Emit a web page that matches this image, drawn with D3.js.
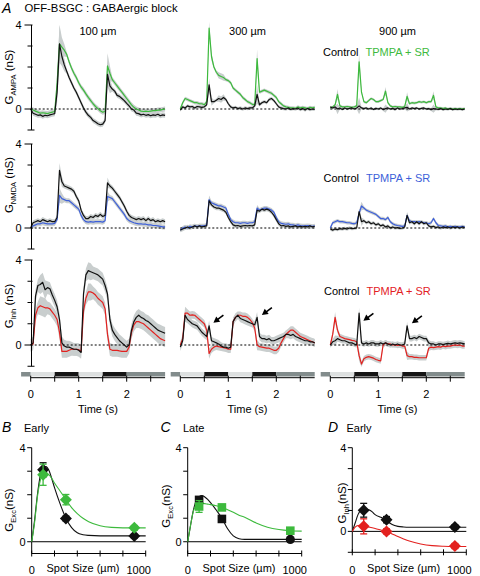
<!DOCTYPE html>
<html><head><meta charset="utf-8">
<script src="https://cdn.jsdelivr.net/npm/d3@7"></script>
<style>body{margin:0;background:#fff}svg{display:block}text{font-family:"Liberation Sans",Arial,Helvetica,sans-serif}</style>
</head><body>
<svg id="chart" width="480" height="576"></svg>
<script>
// ---------------- DATA ----------------
const timeStep = 0.05, nPts = 57;           // 0 .. 2.8 s
const columnLabels = ["100 µm", "300 µm", "900 µm"];
const rowSubs = ["AMPA", "NMDA", "Inh"];
const legendCtrl = "Control", legendDrug = "TPMPA + SR";
const timeTicks = [0, 0.5, 1, 1.5, 2, 2.5];
const timeTickLabels = ["0", "", "1", "", "2", ""];
const stimStart = [-0.2, 0, 0.5, 1.0, 1.5, 2.0];
const stimEnd   = [0, 0.5, 1.0, 1.5, 2.0, 2.8];
const stimShade = ["mid", "light", "dark", "light", "dark", "mid"];

const ampa100Ctrl = [0,-0.2,-0.25,-0.3,-0.28,-0.35,-0.3,-0.32,-0.28,-0.25,
 -0.22,0.8,3.1,2.5,2.1,1.8,1.5,1.25,1.0,0.8,
 0.55,0.3,0.05,-0.15,-0.3,-0.4,-0.55,-0.62,-0.7,-0.75,
 -0.72,-0.55,1.65,1.1,0.95,0.85,0.65,0.6,0.5,0.4,
 0.27,0.15,0.0,-0.05,-0.2,-0.22,-0.28,-0.25,-0.3,-0.27,
 -0.32,-0.28,-0.3,-0.25,-0.32,-0.28,-0.3];
const ampa100Drug = [0,-0.05,-0.1,-0.15,-0.2,-0.18,-0.2,-0.22,-0.18,-0.15,
 -0.12,1.2,3.1,2.95,2.8,2.6,2.25,1.95,1.7,1.5,
 1.25,1.05,0.9,0.72,0.55,0.4,0.25,0.12,0.02,-0.08,
 -0.15,-0.12,2.05,1.7,1.4,1.25,1.1,0.95,0.8,0.65,
 0.5,0.35,0.2,0.08,0.0,-0.05,-0.1,-0.12,-0.1,-0.12,
 -0.1,-0.08,-0.08,-0.05,-0.05,-0.02,0.0];
const ampa300Ctrl = [-0.05,0.1,0.05,0.15,0.1,0.12,0.05,0.12,0.1,0.08,
 0.1,0.2,1.15,0.35,0.35,0.42,0.5,0.45,0.55,0.45,
 0.25,0.1,0.05,0.08,0.02,0.05,0.0,0.05,0.02,0.05,
 0.05,0.15,0.7,0.2,0.3,0.35,0.3,0.45,0.5,0.4,
 0.25,0.1,0.05,0.02,0.0,0.05,-0.02,0.02,0.0,0.05,
 -0.03,0.02,-0.05,0.03,-0.03,0.0,-0.02];
const ampa300Drug = [0.0,0.3,0.5,0.45,0.4,0.35,0.3,0.3,0.25,0.25,
 0.2,0.35,3.85,2.5,2.0,1.75,1.6,1.55,1.5,1.4,
 1.35,1.25,1.0,0.9,0.8,0.7,0.55,0.45,0.35,0.3,
 0.22,0.2,2.4,0.8,0.85,0.9,0.85,0.8,0.75,0.65,
 0.55,0.35,0.25,0.15,0.1,0.08,0.05,0.05,0.03,0.1,
 0.05,0.08,0.05,0.02,0.08,0.05,0.08];
const ampa900Ctrl = [0.1,0.05,0.1,0.0,0.05,-0.02,0.05,0.0,0.03,0.05,
 0.0,0.05,0.15,0.05,0.02,0.05,0.0,0.05,-0.02,0.03,
 0.0,0.05,-0.03,0.02,0.05,0.0,0.03,-0.03,0.05,0.0,
 0.02,0.05,0.08,0.0,0.05,0.02,0.05,0.0,0.03,0.05,
 0.0,0.02,-0.03,0.02,0.0,-0.02,0.02,-0.03,0.0,-0.02,
 0.02,-0.03,0.0,-0.02,0.0,-0.03,0.0];
const ampa900Drug = [0.05,0.1,0.2,0.7,0.15,0.1,0.1,0.12,0.1,0.08,
 0.1,0.15,2.25,0.8,0.35,0.3,0.4,0.5,0.45,0.35,
 0.35,0.4,0.45,0.85,0.3,0.15,0.1,0.12,0.1,0.1,
 0.08,0.12,0.6,0.25,0.3,0.28,0.3,0.35,0.32,0.35,
 0.3,0.35,0.35,0.65,0.1,0.05,0.05,0.02,0.05,0.0,
 0.03,0.0,0.02,0.0,0.02,0.0,0.02];
const nmda100Ctrl = [0.0,0.25,0.3,0.35,0.3,0.4,0.35,0.3,0.35,0.3,
 0.3,0.5,2.75,2.2,2.0,1.95,1.9,1.85,1.75,1.5,
 1.3,0.85,0.6,0.45,0.45,0.55,0.5,0.6,0.55,0.65,
 0.55,0.6,2.15,2.0,1.9,1.75,1.6,1.45,1.25,1.05,
 0.8,0.6,0.5,0.45,0.4,0.45,0.4,0.45,0.35,0.45,
 0.35,0.4,0.3,0.35,0.3,0.35,0.3];
const nmda100Drug = [0.0,0.1,0.15,0.2,0.2,0.25,0.22,0.2,0.2,0.2,
 0.22,0.4,1.55,1.4,1.35,1.3,1.3,1.2,1.1,1.0,
 0.9,0.6,0.4,0.3,0.28,0.3,0.28,0.3,0.3,0.3,
 0.28,0.35,1.5,1.45,1.4,1.25,1.1,0.95,0.8,0.65,
 0.45,0.35,0.3,0.25,0.22,0.2,0.2,0.18,0.18,0.15,
 0.15,0.12,0.12,0.1,0.08,0.05,0.05];
const nmda300Ctrl = [-0.1,-0.05,0.0,0.05,0.0,0.05,0.1,0.05,0.1,0.05,
 0.08,0.1,1.3,1.1,1.0,0.95,0.95,0.9,0.85,0.75,
 0.5,0.3,0.15,0.1,0.12,0.08,0.1,0.12,0.1,0.12,
 0.1,0.15,0.85,0.8,0.9,0.85,0.9,0.85,0.75,0.6,
 0.4,0.2,0.1,0.12,0.08,0.1,0.05,0.08,0.1,0.05,
 0.08,0.05,0.08,0.05,0.1,0.05,0.08];
const nmda300Drug = [-0.1,0.0,0.05,0.0,0.08,0.05,0.1,0.08,0.1,0.1,
 0.1,0.15,1.35,1.2,1.15,1.1,1.05,1.05,1.0,0.95,
 0.65,0.4,0.3,0.25,0.25,0.22,0.25,0.25,0.22,0.25,
 0.25,0.3,0.95,0.85,0.9,0.95,0.95,0.9,0.85,0.75,
 0.5,0.3,0.22,0.2,0.18,0.2,0.15,0.15,0.12,0.15,
 0.12,0.1,0.1,0.12,0.1,0.08,0.1];
const nmda900Ctrl = [-0.05,-0.1,-0.05,-0.08,-0.03,-0.05,-0.02,-0.05,0.0,-0.03,
 -0.02,0.0,0.78,0.3,0.35,0.25,0.3,0.2,0.25,0.15,
 0.2,0.1,0.15,0.05,0.1,0.0,0.05,0.0,0.02,-0.02,
 0.0,0.05,0.6,0.25,0.3,0.2,0.3,0.2,0.3,0.2,
 0.25,0.1,0.05,0.08,0.02,0.05,0.0,0.05,0.02,0.05,
 0.0,0.05,0.02,0.05,0.0,0.05,0.02];
const nmda900Drug = [0.0,0.25,0.3,0.35,0.3,0.3,0.28,0.25,0.25,0.22,
 0.2,0.25,0.7,1.05,0.95,0.85,0.8,0.75,0.7,0.65,
 0.55,0.45,0.45,0.4,0.5,0.3,0.2,0.15,0.12,0.1,
 0.08,0.1,0.6,0.35,0.3,0.3,0.28,0.3,0.28,0.25,
 0.25,0.2,0.25,0.45,0.25,0.12,0.1,0.08,0.1,0.05,
 0.08,0.05,0.08,0.05,0.05,0.08,0.05];
const inh100Ctrl = [0.0,0.1,2.3,2.8,2.85,2.95,2.6,2.7,2.65,2.35,
 2.1,1.8,1.2,0.1,-0.05,-0.1,-0.1,-0.15,-0.2,-0.2,
 -0.25,-0.35,2.4,3.3,3.5,3.45,3.4,3.35,3.3,3.2,
 3.1,2.8,2.4,1.2,0.7,0.5,0.35,0.2,0.1,0.0,
 -0.1,0.0,0.7,1.1,1.3,1.4,1.3,1.25,1.15,1.1,
 1.0,0.9,0.8,0.7,0.65,0.6,0.55];
const inh100Drug = [0.0,0.05,1.4,1.75,1.85,1.8,1.75,1.75,1.7,1.55,
 1.4,1.2,0.6,-0.3,-0.3,-0.3,-0.25,-0.2,-0.2,-0.2,
 -0.22,-0.3,1.6,2.2,2.5,2.5,2.45,2.35,2.2,2.1,
 2.0,1.7,0.5,-0.2,-0.25,-0.25,-0.25,-0.28,-0.3,-0.3,
 -0.3,-0.1,0.6,0.95,1.1,1.1,1.05,1.0,0.9,0.8,
 0.7,0.6,0.5,0.4,0.3,0.25,0.2];
const inh300Ctrl = [-0.1,0.2,1.4,1.2,1.1,1.0,0.95,0.9,0.75,0.6,
 0.5,0.4,0.9,0.2,0.15,0.1,0.05,-0.05,-0.1,-0.1,
 -0.15,-0.1,1.1,1.3,1.4,1.25,1.2,1.15,1.1,1.05,
 1.0,0.95,1.3,0.4,0.3,0.3,0.25,0.3,0.2,0.2,
 0.25,0.3,0.35,0.4,0.5,0.5,0.45,0.5,0.4,0.35,
 0.3,0.25,0.2,0.2,0.15,0.15,0.1];
const inh300Drug = [0.0,0.3,1.5,1.5,1.4,1.42,1.4,1.3,1.2,1.1,
 1.0,0.7,-0.4,-0.2,-0.1,-0.05,-0.08,-0.1,-0.12,-0.15,
 -0.2,-0.2,1.1,1.3,1.4,1.4,1.35,1.35,1.3,1.2,
 1.05,0.8,0.0,-0.08,-0.1,-0.12,-0.15,-0.15,-0.2,-0.25,
 -0.25,-0.15,0.1,0.3,0.5,0.6,0.7,0.7,0.6,0.5,
 0.4,0.35,0.3,0.25,0.2,0.15,0.1];
const inh900Ctrl = [0.0,0.15,0.2,0.3,0.25,0.2,0.2,0.15,0.1,0.1,
 0.05,0.0,1.5,0.1,0.05,0.1,0.05,0.1,0.1,0.05,
 0.05,0.1,0.05,0.1,0.05,0.0,0.05,0.0,0.05,0.0,
 0.0,0.05,0.9,0.3,0.3,0.35,0.3,0.4,0.35,0.3,
 0.3,0.1,0.05,0.05,0.0,0.05,0.05,0.02,0.05,0.08,
 0.05,0.08,0.1,0.08,0.1,0.08,0.05];
const inh900Drug = [0.0,0.5,1.3,0.7,0.4,0.35,0.3,0.28,0.25,0.22,
 0.2,0.15,-0.5,-0.9,-0.65,-0.58,-0.55,-0.58,-0.62,-0.68,
 -0.72,-0.75,0.0,0.1,0.05,0.05,0.0,0.02,-0.02,0.0,
 -0.05,-0.05,-0.5,-0.55,-0.55,-0.58,-0.58,-0.6,-0.6,-0.6,
 -0.6,-0.15,-0.1,-0.12,-0.1,-0.08,-0.1,-0.05,-0.08,-0.05,
 -0.05,-0.02,0.0,-0.02,0.0,-0.05,-0.05];

// SEM (nS): baseline per panel plus wider values at given times
const semBase = [[0.12, 0.08, 0.06], [0.12, 0.1, 0.08], [0.3, 0.18, 0.13]];
const semPeaks = [
 [[[0.55,0.5],[0.6,0.9],[0.65,0.45],[0.7,0.3],[1.6,0.6],[1.65,0.35]],
  [[0.6,0.3],[0.65,0.2],[0.8,0.15],[0.85,0.15],[0.9,0.15],[1.6,0.45]],
  [[0.15,0.25],[0.6,0.4],[1.15,0.2],[1.6,0.2],[2.15,0.2]]],
 [[[0.6,0.35],[0.65,0.25],[1.6,0.25]],
  [[0.6,0.2],[1.6,0.15]],
  [[0.6,0.15],[0.65,0.2],[1.6,0.15]]],
 [[[0.2,0.45],[0.25,0.45],[0.3,0.45],[1.2,0.4],[1.25,0.4]],
  [[0.1,0.3],[0.6,0.25],[1.6,0.25]],
  [[0.1,0.25],[0.6,0.25],[1.6,0.2]]]
];

// arrows (column, time of head, value of head) in Inh row
const arrowCols = [1, 1, 2, 2];
const arrowT = [0.69, 1.7, 0.69, 1.7];
const arrowV = [1.05, 1.41, 1.14, 1.02];

// Panels B-D
const spotSizes = [100, 300, 900];
const fitX = [0,25,50,75,100,125,150,175,200,250,300,350,400,450,500,600,700,800,900,1000];
const earlyExcCtrl = [3.06, 0.99, 0.24], earlyExcCtrlErr = [0.3, 0.1, 0.08];
const earlyExcDrug = [2.85, 1.79, 0.59], earlyExcDrugErr = [0.45, 0.22, 0.1];
const earlyExcCtrlFit = [0,0.9,2.0,2.8,3.15,3.2,3.05,2.7,2.3,1.6,1.0,0.6,0.38,0.3,0.27,0.25,0.25,0.25,0.25,0.25];
const earlyExcDrugFit = [0,0.8,1.9,2.6,2.9,2.95,2.85,2.7,2.5,2.15,1.8,1.45,1.2,1.0,0.85,0.68,0.61,0.59,0.59,0.59];
const lateExcCtrl = [1.78, 0.97, 0.1], lateExcCtrlErr = [0.12, 0.12, 0.05];
const lateExcDrug = [1.5, 1.46, 0.47], lateExcDrugErr = [0.25, 0.12, 0.1];
const lateExcCtrlFit = [0,0.7,1.35,1.75,1.92,1.97,1.9,1.8,1.66,1.35,1.0,0.55,0.25,0.13,0.1,0.1,0.1,0.1,0.1,0.1];
const lateExcDrugFit = [0,0.7,1.3,1.55,1.62,1.63,1.62,1.6,1.58,1.53,1.46,1.36,1.25,1.13,1.04,0.8,0.62,0.52,0.47,0.45];
const earlyInhCtrl = [1.01, 0.56, 0.21], earlyInhCtrlErr = [0.33, 0.15, 0.1];
const earlyInhDrug = [0.24, 0.0, -0.7], earlyInhDrugErr = [0.36, 0.12, 0.12];
const earlyInhCtrlFit = [0,0.4,0.8,1.0,1.06,1.06,1.02,0.93,0.8,0.67,0.53,0.33,0.24,0.21,0.2,0.2,0.2,0.2,0.2,0.2];
const earlyInhDrugFit = [0,0.2,0.28,0.29,0.26,0.23,0.2,0.17,0.14,0.07,0.0,-0.12,-0.25,-0.36,-0.46,-0.6,-0.68,-0.71,-0.72,-0.72];
const spotTicks = [0,200,400,600,800,1000];

// ---------------- STYLE / LAYOUT ----------------
const svg = d3.select("#chart");
const C_CTRL = "#111", drugColors = ["#3dba3d", "#3d5fd9", "#e3211f"];
const bandColor = "#c9cece";
const shadeColor = {mid: "#828c8c", light: "#dde0e0", dark: "#151515"};
const colX0 = [30.7, 180.3, 330.3];
const rowZeroY = [109, 228, 345], rowFourY = [25, 144, 260];
const timeGrid = d3.range(nPts).map(i => +(i * timeStep).toFixed(2));
const traces = [
 [[ampa100Ctrl, ampa100Drug], [ampa300Ctrl, ampa300Drug], [ampa900Ctrl, ampa900Drug]],
 [[nmda100Ctrl, nmda100Drug], [nmda300Ctrl, nmda300Drug], [nmda900Ctrl, nmda900Drug]],
 [[inh100Ctrl, inh100Drug], [inh300Ctrl, inh300Drug], [inh900Ctrl, inh900Drug]]
];

function txt(x, y, s, size, opts = {}) {
  const t = svg.append("text").attr("x", x).attr("y", y).attr("font-size", size).text(s);
  if (opts.anchor) t.attr("text-anchor", opts.anchor);
  if (opts.fill) t.attr("fill", opts.fill);
  if (opts.italic) t.attr("font-style", "italic");
  return t;
}
function gLabel(x, y, sub, suffix, size) {
  const t = svg.append("text").attr("transform", `translate(${x},${y}) rotate(-90)`)
    .attr("text-anchor", "middle").attr("font-size", size);
  t.append("tspan").text("G");
  t.append("tspan").attr("font-size", size * 0.66).attr("dy", size * 0.3).text(sub);
  t.append("tspan").attr("dy", -size * 0.3).text(suffix);
}

// headers
txt(2, 13, "A", 14, {italic: true});
txt(24.5, 12, "OFF-BSGC : GABAergic block", 11.3);

const xScales = colX0.map(x0 => d3.scaleLinear([0, 2.8], [x0, x0 + 134.4]));
const yScales = rowZeroY.map((z, r) => d3.scaleLinear([0, 4], [z, rowFourY[r]]));

columnLabels.forEach((lab, c) => txt(xScales[c](1.4), 35, lab, 11, {anchor: "middle"}));

const legendY = [56, 182, 295], legendX = [323, 323.5, 324];
rowSubs.forEach((sub, r) => {
  txt(legendX[r], legendY[r], legendCtrl, 11);
  txt(legendX[r] + 42.5, legendY[r], legendDrug, 11, {fill: drugColors[r]});
});

// trace panels
for (let r = 0; r < 3; r++) {
  const y = yScales[r];
  for (let c = 0; c < 3; c++) {
    const x = xScales[c];
    const g = svg.append("g");
    const sem = timeGrid.map(t => {
      const p = semPeaks[r][c].find(q => Math.abs(q[0] - t) < 1e-6);
      return p ? p[1] : semBase[r][c];
    });
    const [ctrl, drug] = traces[r][c];
    const area = vals => d3.area()
      .x((d, i) => x(timeGrid[i]))
      .y0((d, i) => y(vals[i] - sem[i]))
      .y1((d, i) => y(vals[i] + sem[i]))(vals);
    [drug, ctrl].forEach(v => g.append("path").attr("d", area(v)).attr("fill", bandColor));
    g.append("line").attr("x1", x(0)).attr("x2", x(2.8)).attr("y1", y(0)).attr("y2", y(0))
      .attr("stroke", "#000").attr("stroke-width", 1).attr("stroke-dasharray", "2,2");
    const line = d3.line().x((d, i) => x(timeGrid[i])).y(d => y(d));
    g.append("path").attr("d", line(drug)).attr("fill", "none").attr("stroke", drugColors[r]).attr("stroke-width", 1.2).attr("stroke-linejoin", "round");
    g.append("path").attr("d", line(ctrl)).attr("fill", "none").attr("stroke", C_CTRL).attr("stroke-width", 1.2).attr("stroke-linejoin", "round");
  }
  // y axis (first column)
  const ax = 31.5;
  svg.append("line").attr("x1", ax).attr("x2", ax).attr("y1", y(4)).attr("y2", y(-1)).attr("stroke", "#000");
  [4, 3, 2, 1, 0, -1].forEach(v => {
    const major = (v === 4 || v === 0);
    svg.append("line").attr("x1", ax - (major ? 7 : 4)).attr("x2", ax + (v === -1 ? 3 : 1))
      .attr("y1", y(v)).attr("y2", y(v)).attr("stroke", "#000");
    if (major) txt(21.5, y(v) + 4, String(v), 11, {anchor: "end"});
  });
  gLabel(13, [77, 185, 306][r], rowSubs[r], " (nS)", 11.5);
}

// arrows
arrowCols.forEach((c, i) => {
  const hx = xScales[c](arrowT[i]), hy = yScales[2](arrowV[i]);
  const dx = 10, dy = -7.5, L = Math.hypot(dx, dy), ux = dx / L, uy = dy / L;
  svg.append("line").attr("x1", hx + ux * 5).attr("y1", hy + uy * 5).attr("x2", hx + dx).attr("y2", hy + dy)
    .attr("stroke", "#000").attr("stroke-width", 1.6);
  const bx = hx + ux * 6, by = hy + uy * 6, px = -uy * 3.3, py = ux * 3.3;
  svg.append("path").attr("d", `M${hx},${hy}L${bx + px},${by + py}L${bx - px},${by - py}Z`).attr("fill", "#000");
});

// stimulus bars and time axes
colX0.forEach((x0, c) => {
  const x = xScales[c];
  stimStart.forEach((s, i) => {
    svg.append("rect").attr("x", x(s)).attr("y", 372).attr("width", x(stimEnd[i]) - x(s)).attr("height", 4.5)
      .attr("fill", shadeColor[stimShade[i]]);
  });
  const ay = 377.7;
  svg.append("line").attr("x1", x(0)).attr("x2", x(2.8)).attr("y1", ay).attr("y2", ay).attr("stroke", "#000");
  timeTicks.forEach((t, i) => {
    svg.append("line").attr("x1", x(t)).attr("x2", x(t)).attr("y1", ay - 2).attr("y2", ay + 4).attr("stroke", "#000");
    if (timeTickLabels[i]) txt(x(t), 398, timeTickLabels[i], 11, {anchor: "middle"});
  });
  txt(x(1.4), 413, "Time (s)", 11, {anchor: "middle"});
});

// ---------------- PANELS B, C, D ----------------
function marker(g, shape, cx, cy, color) {
  if (shape === "diamond") g.append("path").attr("d", `M${cx},${cy - 6}L${cx + 6},${cy}L${cx},${cy + 6}L${cx - 6},${cy}Z`).attr("fill", color);
  else if (shape === "square") g.append("rect").attr("x", cx - 4.3).attr("y", cy - 4.3).attr("width", 8.6).attr("height", 8.6).attr("fill", color);
  else g.append("circle").attr("cx", cx).attr("cy", cy).attr("r", 4.6).attr("fill", color);
}
function spotPanel(cfg) {
  const x = d3.scaleLinear([0, 1000], [cfg.x0, cfg.x0 + 114]);
  const y = d3.scaleLinear(cfg.yDom, cfg.yRange);
  const g = svg.append("g");
  txt(cfg.letterX, 432, cfg.letter, 14, {italic: true});
  txt(cfg.titleX, 432, cfg.title, 11);
  // axes
  g.append("line").attr("x1", x(0)).attr("x2", x(0)).attr("y1", y(4)).attr("y2", y(cfg.yDom[0])).attr("stroke", "#000");
  cfg.yTicks.forEach(v => {
    g.append("line").attr("x1", x(0) - 4.5).attr("x2", x(0)).attr("y1", y(v)).attr("y2", y(v)).attr("stroke", "#000");
    if (v === 0 || v === 4) txt(x(0) - 6, y(v) + 4, String(v), 11, {anchor: "end"});
  });
  const by = y(cfg.yDom[0]);
  g.append("line").attr("x1", x(0)).attr("x2", x(1000)).attr("y1", by).attr("y2", by).attr("stroke", "#000");
  spotTicks.forEach(t => g.append("line").attr("x1", x(t)).attr("x2", x(t)).attr("y1", by - 3).attr("y2", by + 3).attr("stroke", "#000"));
  g.append("line").attr("x1", x(0)).attr("x2", x(1000)).attr("y1", y(0)).attr("y2", y(0)).attr("stroke", "#000");
  txt(x(0), 573.5, "0", 11, {anchor: "middle"});
  txt(x(1000) - 7, 573.5, "1000", 11, {anchor: "middle"});
  txt(x(450), 572, "Spot Size (µm)", 11, {anchor: "middle"});
  gLabel(cfg.labelX, cfg.labelY, cfg.sub, "(nS)", 11.5);
  // fits
  const fl = d3.line().x((d, i) => x(fitX[i])).y(d => y(d)).curve(d3.curveMonotoneX);
  g.append("path").attr("d", fl(cfg.ctrlFit)).attr("fill", "none").attr("stroke", C_CTRL).attr("stroke-width", 1.1);
  g.append("path").attr("d", fl(cfg.drugFit)).attr("fill", "none").attr("stroke", cfg.color).attr("stroke-width", 1.1);
  // points
  [[cfg.ctrl, cfg.ctrlErr, C_CTRL, cfg.ctrlShapes], [cfg.drug, cfg.drugErr, cfg.color, cfg.drugShapes]].forEach(([vals, errs, col, shapes]) => {
    vals.forEach((v, i) => {
      const cx = x(spotSizes[i]);
      g.append("line").attr("x1", cx).attr("x2", cx).attr("y1", y(v - errs[i])).attr("y2", y(v + errs[i])).attr("stroke", col).attr("stroke-width", 1.3);
      [v - errs[i], v + errs[i]].forEach(e => g.append("line").attr("x1", cx - 3.5).attr("x2", cx + 3.5).attr("y1", y(e)).attr("y2", y(e)).attr("stroke", col).attr("stroke-width", 1.3));
      marker(g, shapes[i], cx, y(v), col);
    });
  });
}
const D3 = ["diamond", "diamond", "diamond"], S3 = ["square", "square", "square"];
spotPanel({x0: 31.7, yDom: [-0.5, 4], yRange: [553.5, 447.7], yTicks: [0,1,2,3,4], letter: "B", letterX: 2, title: "Early", titleX: 24,
  labelX: 12.5, labelY: 510, sub: "Exc", color: drugColors[0], ctrl: earlyExcCtrl, ctrlErr: earlyExcCtrlErr, drug: earlyExcDrug, drugErr: earlyExcDrugErr,
  ctrlFit: earlyExcCtrlFit, drugFit: earlyExcDrugFit, ctrlShapes: D3, drugShapes: D3});
spotPanel({x0: 187.7, yDom: [-0.5, 4], yRange: [553.5, 447.7], yTicks: [0,1,2,3,4], letter: "C", letterX: 160.5, title: "Late", titleX: 183,
  labelX: 170, labelY: 506, sub: "Exc", color: drugColors[0], ctrl: lateExcCtrl, ctrlErr: lateExcCtrlErr, drug: lateExcDrug, drugErr: lateExcDrugErr,
  ctrlFit: lateExcCtrlFit, drugFit: lateExcDrugFit, ctrlShapes: ["square", "square", "circle"], drugShapes: S3});
spotPanel({x0: 352.3, yDom: [-1, 4], yRange: [552.3, 447.7], yTicks: [-1,0,1,2,3,4], letter: "D", letterX: 328, title: "Early", titleX: 346.5,
  labelX: 345.5, labelY: 503, sub: "Inh", color: drugColors[2], ctrl: earlyInhCtrl, ctrlErr: earlyInhCtrlErr, drug: earlyInhDrug, drugErr: earlyInhDrugErr,
  ctrlFit: earlyInhCtrlFit, drugFit: earlyInhDrugFit, ctrlShapes: D3, drugShapes: D3});
</script>
</body></html>
